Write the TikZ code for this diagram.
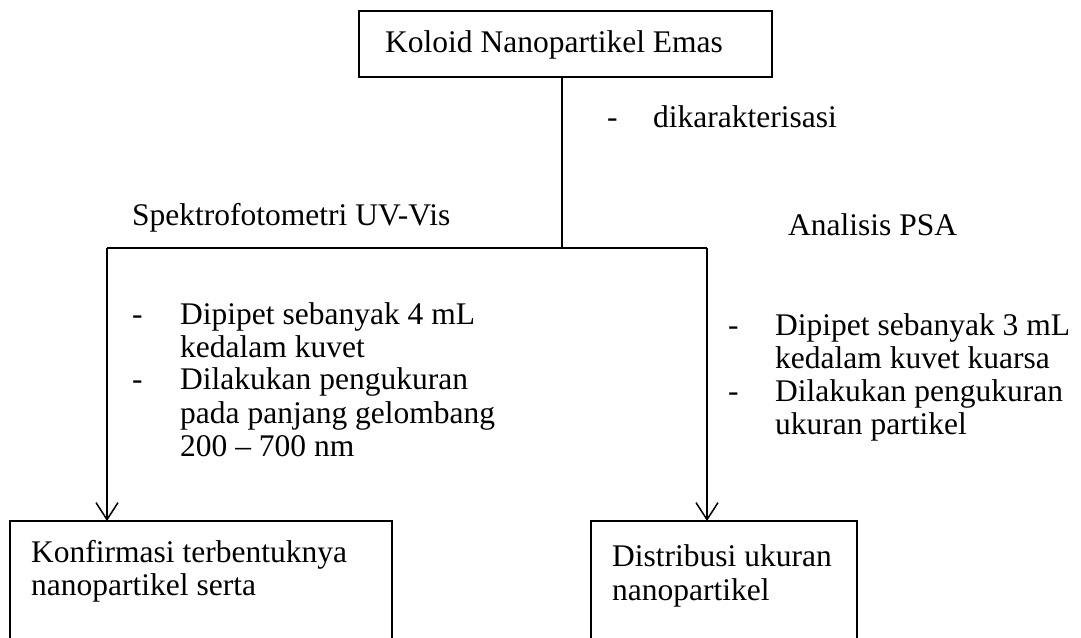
\documentclass[tikz,border=0pt]{standalone}
\usepackage{fontspec}
\setmainfont{Liberation Serif}
\usetikzlibrary{arrows.meta}
\begin{document}
\begin{tikzpicture}[x=1pt,y=-1pt,
  lbl/.style={anchor=base west, inner sep=0pt, font=\fontsize{31.5}{33}\selectfont},
  box/.style={draw, line width=1.5pt},
  conn/.style={line width=1.5pt},
  arr/.style={conn, -{Straight Barb[length=17pt,width=22pt,line width=1.5pt]}}]
\useasboundingbox (0,0) rectangle (1081,637);
\clip (0,0) rectangle (1081,637);
% boxes
\draw[box] (359,11) rectangle (772,77);
\coordinate (topS) at (562,77);
\draw[box] (10,521) rectangle (392,660);
\draw[box] (591,521) rectangle (857,660);
\coordinate (lboxN) at (107,521);
\coordinate (rboxN) at (707,521);
% connectors
\coordinate (j) at (562,248);
\coordinate (hl) at (107,248);
\coordinate (hr) at (707,248);
\draw[conn] (topS) -- (j);
\draw[conn] (hl) -- (hr);
\draw[arr] (hl) -- (lboxN);
\draw[arr] (hr) -- (rboxN);
% texts
\node[lbl] (t0) at (385,52) {Koloid Nanopartikel Emas};
\node[lbl] (d0) at (607,127) {-};
\node[lbl] (t1) at (653,127) {dikarakterisasi};
\node[lbl] (t2) at (132,225) {Spektrofotometri UV-Vis};
\node[lbl] (t3) at (788,235) {Analisis PSA};
% left list
\node[lbl] (ld1) at (132,324) {-};
\node[lbl] (ld2) at (132,389) {-};
\node[lbl] (l1) at (180,324) {Dipipet sebanyak 4 mL};
\node[lbl] (l2) at (180,357) {kedalam kuvet};
\node[lbl] (l3) at (180,389) {Dilakukan pengukuran};
\node[lbl] (l4) at (180,423) {pada panjang gelombang};
\node[lbl] (l5) at (180,456) {200 – 700 nm};
% right list
\node[lbl] (rd1) at (728,335) {-};
\node[lbl] (rd2) at (728,401) {-};
\node[lbl] (r1) at (775,335) {Dipipet sebanyak 3 mL};
\node[lbl] (r2) at (775,368) {kedalam kuvet kuarsa};
\node[lbl] (r3) at (775,401) {Dilakukan pengukuran};
\node[lbl] (r4) at (775,434) {ukuran partikel};
% bottom boxes text
\node[lbl] (b1) at (31,562) {Konfirmasi terbentuknya};
\node[lbl] (b2) at (31,595) {nanopartikel serta};
\node[lbl] (b3) at (612,566) {Distribusi ukuran};
\node[lbl] (b4) at (612,600) {nanopartikel};
\end{tikzpicture}
\end{document}
